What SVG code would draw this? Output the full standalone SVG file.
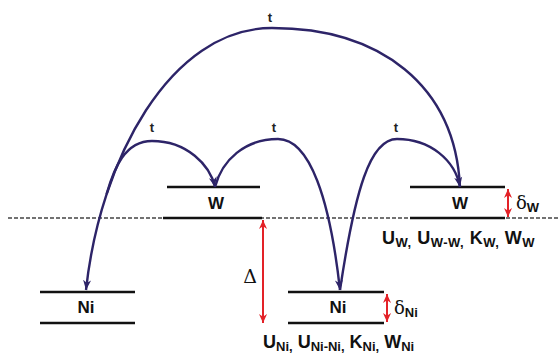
<svg xmlns="http://www.w3.org/2000/svg" width="560" height="354" viewBox="0 0 560 354">
<defs>
<style>
.lvl{stroke:#111;stroke-width:2.6;fill:none}
.arc{stroke:#2d2468;stroke-width:2.4;fill:none}
.red{stroke:#e32228;stroke-width:2;fill:none}
.lab{font-family:"Liberation Sans",Arial,sans-serif;font-weight:bold;fill:#111}
.t{font-family:"Liberation Sans",Arial,sans-serif;font-weight:bold;font-size:13px;fill:#222;text-anchor:middle}
.sym{font-family:"DejaVu Serif","Liberation Serif",serif;fill:#111}
</style>
<marker id="ah" viewBox="0 0 10 10" refX="10" refY="5" markerWidth="10" markerHeight="10" markerUnits="userSpaceOnUse" orient="auto">
<path d="M0,1 L10,5 L0,9 L3,5 Z" fill="#2d2468"/>
</marker>
<marker id="rh" viewBox="0 0 10 10" refX="10" refY="5" markerWidth="9" markerHeight="9" markerUnits="userSpaceOnUse" orient="auto-start-reverse">
<path d="M0,0.5 L10,5 L0,9.5 L3,5 Z" fill="#e32228"/>
</marker>
</defs>
<rect width="560" height="354" fill="#fff"/>
<line x1="8" y1="218" x2="560" y2="218" stroke="#444" stroke-width="1.3" stroke-dasharray="4 2"/>
<g id="W1">
<line class="lvl" x1="167" y1="187" x2="260" y2="187"/>
<line class="lvl" x1="163" y1="218" x2="262" y2="218"/>
<text class="lab" x="216" y="209" font-size="17" text-anchor="middle">W</text>
</g>
<g id="W2">
<line class="lvl" x1="410" y1="187" x2="505" y2="187"/>
<line class="lvl" x1="410" y1="218" x2="505" y2="218"/>
<text class="lab" x="460" y="209" font-size="17" text-anchor="middle">W</text>
<text class="sym" x="516" y="209" font-size="18">δ<tspan class="lab" font-size="13" dy="3" font-family="Liberation Sans,Arial,sans-serif" font-weight="bold">W</tspan></text>
<text class="lab" x="382" y="244" font-size="18" letter-spacing="0.5">U<tspan font-size="13" dy="3">W,</tspan><tspan dy="-3"> U</tspan><tspan font-size="13" dy="3">W-W,</tspan><tspan dy="-3"> K</tspan><tspan font-size="13" dy="3">W,</tspan><tspan dy="-3"> W</tspan><tspan font-size="13" dy="3">W</tspan></text>
</g>
<g id="Ni1">
<line class="lvl" x1="40" y1="292" x2="135" y2="292"/>
<line class="lvl" x1="40" y1="323" x2="135" y2="323"/>
<text class="lab" x="86" y="313" font-size="17" text-anchor="middle">Ni</text>
</g>
<g id="Ni2">
<line class="lvl" x1="288" y1="292" x2="384" y2="292"/>
<line class="lvl" x1="288" y1="323" x2="384" y2="323"/>
<text class="lab" x="338" y="313" font-size="17" text-anchor="middle">Ni</text>
<text class="sym" x="394" y="314" font-size="18">δ<tspan class="lab" font-size="13" dy="3" font-family="Liberation Sans,Arial,sans-serif" font-weight="bold">Ni</tspan></text>
<text class="lab" x="263" y="348" font-size="18">U<tspan font-size="13" dy="3">Ni,</tspan><tspan dy="-3"> U</tspan><tspan font-size="13" dy="3">Ni-Ni,</tspan><tspan dy="-3"> K</tspan><tspan font-size="13" dy="3">Ni,</tspan><tspan dy="-3"> W</tspan><tspan font-size="13" dy="3">Ni</tspan></text>
</g>
<g id="connectors">
<path class="arc" d="M460,187 C455,85 380,28 272,28 C170,28 100,160 86,290" marker-end="url(#ah)"/>
<path class="arc" d="M106.6,194.2 C114,168 125,141 152,141 C187,141 210,165 215,187" marker-end="url(#ah)"/>
<path class="arc" d="M215,187 C222,160 245,139 278,139 C310,139 330,200 340,290" marker-end="url(#ah)"/>
<path class="arc" d="M340,290 C355,190 370,139 397,139 C430,139 455,160 460,187" marker-end="url(#ah)"/>
<line class="red" x1="263" y1="220" x2="263" y2="323" marker-start="url(#rh)" marker-end="url(#rh)"/>
<line class="red" x1="508" y1="189" x2="508" y2="217" marker-start="url(#rh)" marker-end="url(#rh)"/>
<line class="red" x1="387" y1="294" x2="387" y2="322" marker-start="url(#rh)" marker-end="url(#rh)"/>
</g>
<g id="labels">
<text class="t" x="270" y="22">t</text>
<text class="t" x="152" y="132">t</text>
<text class="t" x="274" y="132">t</text>
<text class="t" x="396" y="132">t</text>
<text class="sym" x="250" y="283" font-size="19" text-anchor="middle">Δ</text>
</g>
</svg>
